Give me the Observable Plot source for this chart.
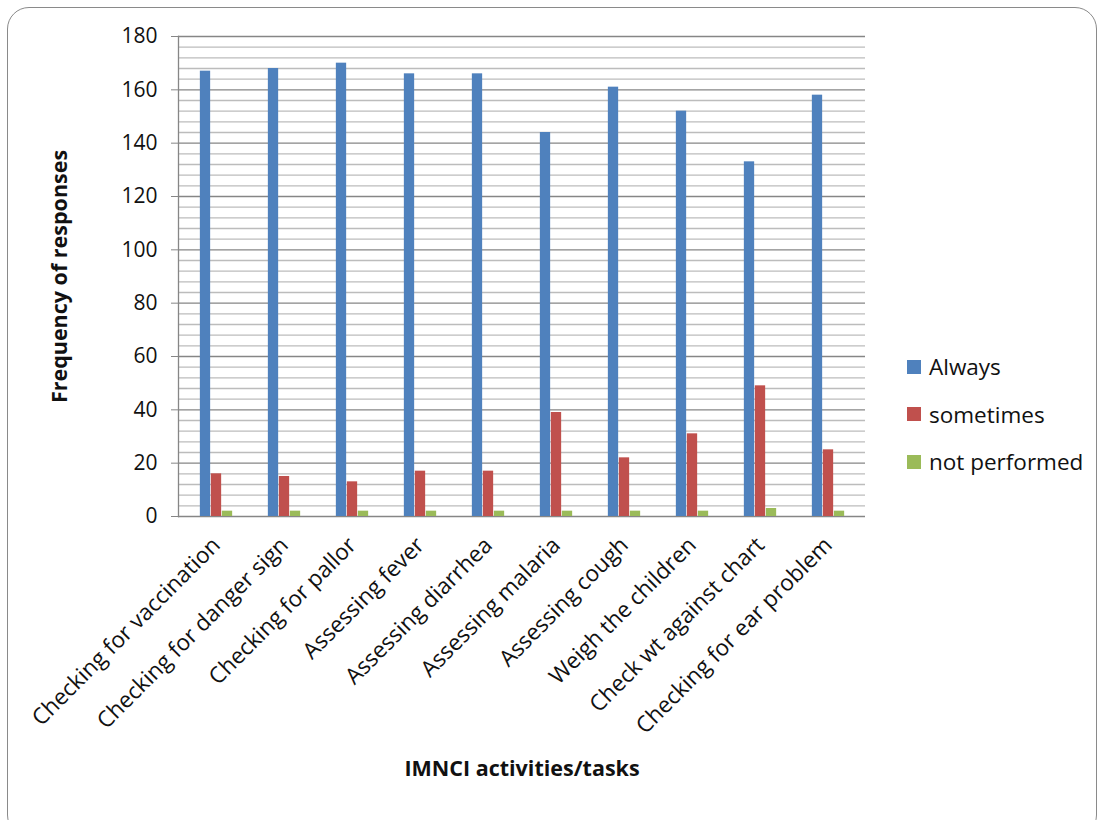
<!DOCTYPE html>
<html>
<head>
<meta charset="utf-8">
<script src="https://cdn.jsdelivr.net/npm/d3@7"></script>
<script src="https://cdn.jsdelivr.net/npm/@observablehq/plot@0.6"></script>
<style>
  html, body { margin: 0; padding: 0; background: #fff; }
  #wrap { position: relative; width: 1103px; height: 820px; overflow: hidden; font-family: "Open Sans", sans-serif; }
  #border { position: absolute; left: 7px; top: 7px; width: 1090px; height: 830px; border: 1.5px solid #8a8a8a; border-radius: 22px; box-sizing: border-box; }
  #legend { position: absolute; left: 907px; top: 343px; font-size: 22.5px; color: #111; }
  #legend .item { display: flex; align-items: center; height: 47.5px; }
  #legend .sw { width: 14px; height: 14px; margin-right: 8px; }
</style>
</head>
<body>
<div id="wrap">
  <div id="border"></div>
  <div id="chart"></div>
  <div id="legend"></div>
</div>
<script>
// IMNCI activities and how often each is performed
const tasks = [
  "Checking for vaccination",
  "Checking for danger sign",
  "Checking for pallor",
  "Assessing fever",
  "Assessing diarrhea",
  "Assessing malaria",
  "Assessing cough",
  "Weigh the children",
  "Check wt against chart",
  "Checking for ear problem"
];
const seriesNames = ["Always", "sometimes", "not performed"];
const always       = [167, 168, 170, 166, 166, 144, 161, 152, 133, 158];
const sometimes    = [16, 15, 13, 17, 17, 39, 22, 31, 49, 25];
const notPerformed = [2, 2, 2, 2, 2, 2, 2, 2, 3, 2];
const colors = ["#4F81BD", "#C0504D", "#9BBB59"];
const yTicks = [0, 20, 40, 60, 80, 100, 120, 140, 160, 180];
const minorTicks = d3.range(0, 181, 4).filter(v => v % 20 !== 0);

const values = [always, sometimes, notPerformed];
const rows = [];
seriesNames.forEach((s, si) => tasks.forEach((t, ti) => rows.push({task: t, series: s, count: values[si][ti]})));

const W = 1103, H = 820;
const margin = {left: 178, right: 238, top: 36, bottom: 304};
const band = (W - margin.left - margin.right) / tasks.length;
const barW = 11;

// Each series sits in its own slot within the task's band
const barsFor = (s, si) => Plot.barY(rows.filter(d => d.series === s), {
  x: "task",
  y: "count",
  fill: colors[si],
  insetLeft: band / 2 - barW * 1.5 + si * barW,
  insetRight: band / 2 - barW * 1.5 + (2 - si) * barW
});

const chart = Plot.plot({
  width: W,
  height: H,
  marginLeft: margin.left,
  marginRight: margin.right,
  marginTop: margin.top,
  marginBottom: margin.bottom,
  style: {fontFamily: "'Open Sans', sans-serif", fontSize: "22.5px", color: "#111", background: "transparent"},
  x: {domain: tasks, padding: 0, label: null},
  y: {domain: [0, 180], label: null},
  marks: [
    Plot.ruleY(minorTicks, {stroke: "#bcbcbc", strokeWidth: 1.3}),
    Plot.ruleY(yTicks, {stroke: "#868686", strokeWidth: 1.3}),
    Plot.frame({anchor: "left", stroke: "#868686", strokeWidth: 1.3}),
    ...seriesNames.map(barsFor),
    Plot.axisY({ticks: yTicks, tickSize: 7, tickPadding: 14, stroke: "#868686", fontSize: 21, label: null}),
    Plot.axisX({tickRotate: -45, tickSize: 0, tickPadding: 25, label: null}),
    Plot.text(["Frequency of responses"], {frameAnchor: "left", textAnchor: "middle", rotate: -90, dx: -118, fontWeight: "bold", fontSize: 21.5}),
    Plot.text(["IMNCI activities/tasks"], {frameAnchor: "bottom", dy: 259, fontWeight: "bold", fontSize: 21.5})
  ]
});
document.getElementById("chart").appendChild(chart);

const legend = d3.select("#legend");
seriesNames.forEach((s, i) => {
  const item = legend.append("div").attr("class", "item");
  item.append("div").attr("class", "sw").style("background", colors[i]);
  item.append("span").text(s);
});
</script>
</body>
</html>
